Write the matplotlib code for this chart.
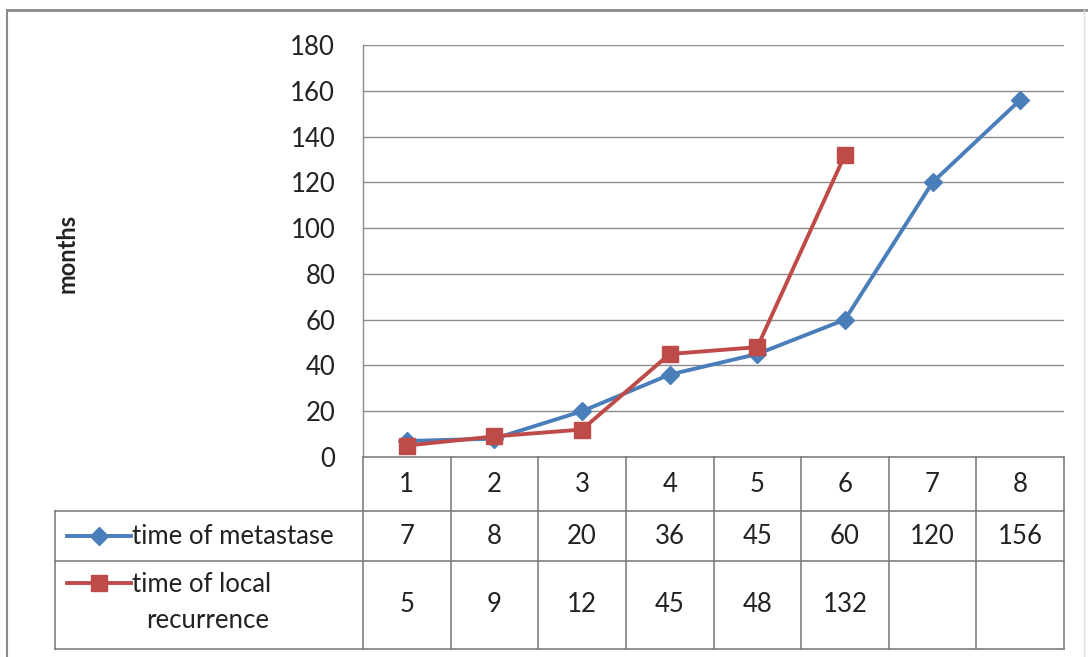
import numpy as np
from matplotlib import pyplot as plt
from matplotlib.lines import Line2D

plt.rcParams['font.family'] = ['Lato', 'DejaVu Sans']

categories = ['1', '2', '3', '4', '5', '6', '7', '8']
metastase = [7, 8, 20, 36, 45, 60, 120, 156]
recurrence = [5, 9, 12, 45, 48, 132]
series_names = ['time of metastase', 'time of local\nrecurrence']
yticks = [0, 20, 40, 60, 80, 100, 120, 140, 160, 180]

W, H = 1090, 657
blue = '#4A7EBB'
red = '#BE4B48'
grid_c = '#8c8c8c'
txt_c = '#222222'
fs = 18.5

fig = plt.figure(figsize=(W / 100, H / 100), dpi=100)

def px_axes(x0, y0, x1, y1):
    return fig.add_axes([x0 / W, 1 - y1 / H, (x1 - x0) / W, (y1 - y0) / H])

# plot area
px_l, px_r, px_t, px_b = 363, 1064, 45, 457
ax = px_axes(px_l, px_t, px_r, px_b)
n = len(categories)
x = np.arange(n)
ax.set_xlim(-0.5, n - 0.5)
ax.set_ylim(0, 180)
ax.set_yticks(yticks)
ax.set_yticklabels([str(v) for v in yticks], fontsize=18.5, color=txt_c)
ax.tick_params(axis='y', length=0, pad=20)
ax.set_xticks([])
for s in ['top', 'right', 'bottom']:
    ax.spines[s].set_visible(False)
ax.spines['left'].set_color(grid_c)
ax.spines['left'].set_linewidth(1)
for v in yticks[1:]:
    ax.axhline(v, color=grid_c, lw=1, zorder=1)

ax.plot(x, metastase, color=blue, lw=2.8, marker='D', ms=9.5, zorder=3, clip_on=False)
ax.plot(x[:len(recurrence)], recurrence, color=red, lw=2.8, marker='s', ms=12,
        zorder=4, clip_on=False)

fig.text(67 / W, 1 - 253 / H, 'months', rotation=90, fontsize=17, fontweight='bold',
         ha='center', va='center', color=txt_c)

# data table below
tb_l, tb_t, tb_b = 55, 457, 649
col_w = (px_r - px_l) / n
lead = (px_l - tb_l) / col_w
tax = px_axes(tb_l, tb_t, px_r, tb_b)
tax.set_xlim(-0.5 - lead, n - 0.5)
rows = [0, 54, 104, 192]
tax.set_ylim(rows[-1], 0)
tax.axis('off')

lc = '#7f7f7f'
lkw = dict(color=lc, lw=1.2, clip_on=False)
# horizontal lines
tax.plot([-0.5, n - 0.5], [rows[0], rows[0]], **lkw)
for r in rows[1:]:
    tax.plot([-0.5 - lead, n - 0.5], [r, r], **lkw)
# vertical lines
tax.plot([-0.5 - lead, -0.5 - lead], [rows[1], rows[3]], **lkw)
for i in range(n + 1):
    tax.plot([i - 0.5, i - 0.5], [rows[0], rows[3]], **lkw)

for i, c in enumerate(categories):
    tax.text(i, (rows[0] + rows[1]) / 2, c, ha='center', va='center', fontsize=fs,
             color=txt_c)
for i, v in enumerate(metastase):
    tax.text(i, (rows[1] + rows[2]) / 2, str(v), ha='center', va='center', fontsize=fs,
             color=txt_c)
for i, v in enumerate(recurrence):
    tax.text(i, (rows[2] + rows[3]) / 2, str(v), ha='center', va='center', fontsize=fs,
             color=txt_c)

# legend keys in the table
kx0 = -0.5 - lead + 12 / col_w
kx1 = kx0 + 64 / col_w
ky1 = (rows[1] + rows[2]) / 2
ky2 = rows[2] + 22
tax.plot([kx0, kx1], [ky1, ky1], color=blue, lw=2.8, clip_on=False)
tax.plot([(kx0 + kx1) / 2], [ky1], color=blue, marker='D', ms=9, clip_on=False)
tax.plot([kx0, kx1], [ky2, ky2], color=red, lw=2.8, clip_on=False)
tax.plot([(kx0 + kx1) / 2], [ky2], color=red, marker='s', ms=12, clip_on=False)
tax.text(kx1 + 1 / col_w, ky1, series_names[0], ha='left', va='center', fontsize=fs,
         color=txt_c)
tax.text(kx1 + 1 / col_w, ky2 + 1, series_names[1].split('\n')[0], ha='left',
         va='center', fontsize=fs, color=txt_c)
tax.text(-0.5 - lead + 153 / col_w, ky2 + 37, series_names[1].split('\n')[1],
         ha='center', va='center', fontsize=fs, color=txt_c)

# outer chart border
fig.add_artist(Line2D([7 / W, 1086 / W], [1 - 10 / H, 1 - 10 / H], color='#8a8a8a', lw=2))
fig.add_artist(Line2D([7 / W, 7 / W], [1 - 10 / H, 0], color='#8a8a8a', lw=1.5))
fig.add_artist(Line2D([1084 / W, 1084 / W], [1 - 10 / H, 0], color='#e0e0e0', lw=1))

fig.savefig('out.png', dpi=100)
